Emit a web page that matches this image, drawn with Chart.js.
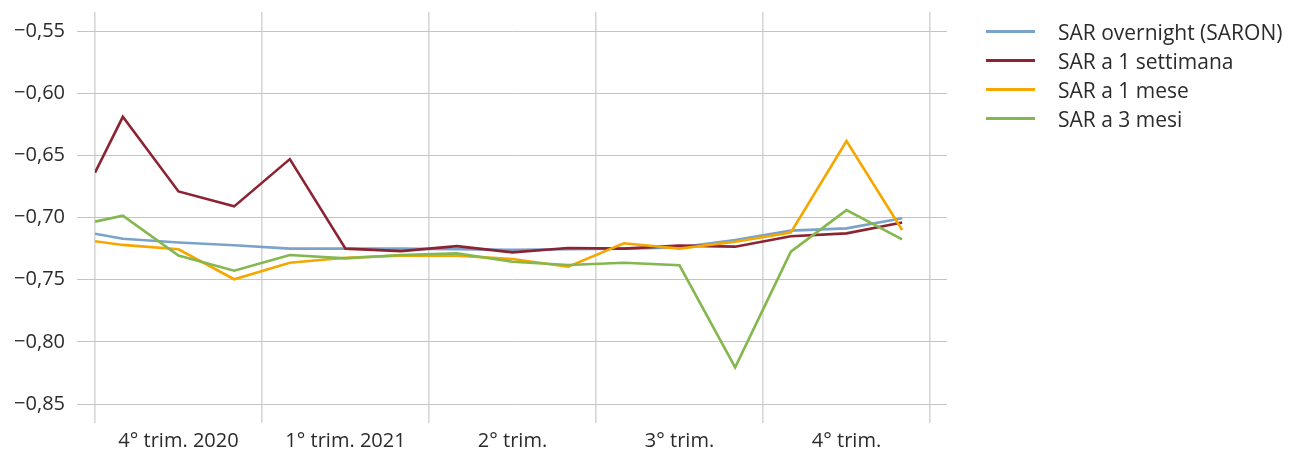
<!DOCTYPE html>
<html>
<head>
<meta charset="utf-8">
<script src="https://cdn.jsdelivr.net/npm/chart.js@4.4.1/dist/chart.umd.min.js"></script>
<style>
  html, body { margin: 0; padding: 0; background: #fff; overflow: hidden; }
  #wrap { position: relative; width: 1291px; height: 452px; }
  #legend { position: absolute; left: 986px; top: 17px; font-family: "Open Sans", Roboto, sans-serif; font-size: 21px; color: #2b2b2b; }
  .item { display: flex; align-items: center; height: 29px; }
  .swatch { width: 49px; height: 3px; margin-right: 23px; }
</style>
</head>
<body>
<div id="wrap">
  <canvas id="c" width="1291" height="452"></canvas>
  <div id="legend"></div>
</div>
<script>
// time in months from 1 Oct 2020 (mid-month points; first value is the left edge)
const months = [0, 0.5, 1.5, 2.5, 3.5, 4.5, 5.5, 6.5, 7.5, 8.5, 9.5, 10.5, 11.5, 12.5, 13.5, 14.5];
const seriesNames = ['SAR overnight (SARON)', 'SAR a 1 settimana', 'SAR a 1 mese', 'SAR a 3 mesi'];
const saron   = [-0.713, -0.717, -0.720, -0.7223, -0.725, -0.725, -0.725, -0.7255, -0.726, -0.7255, -0.725, -0.724, -0.718, -0.7105, -0.7087, -0.7006];
const week1   = [-0.664, -0.619, -0.679, -0.691, -0.653, -0.725, -0.727, -0.723, -0.728, -0.7245, -0.725, -0.7226, -0.7234, -0.715, -0.7127, -0.704];
const month1  = [-0.719, -0.722, -0.7255, -0.7496, -0.7363, -0.7323, -0.7306, -0.7306, -0.7333, -0.7395, -0.7207, -0.725, -0.7194, -0.712, -0.6385, -0.710];
const month3  = [-0.7033, -0.6985, -0.7306, -0.7427, -0.7301, -0.7328, -0.7301, -0.7288, -0.7355, -0.7381, -0.7363, -0.7384, -0.8205, -0.7274, -0.694, -0.7175];
const quarterLabels = ['4° trim. 2020', '1° trim. 2021', '2° trim.', '3° trim.', '4° trim.'];
const yTicks = [-0.55, -0.60, -0.65, -0.70, -0.75, -0.80, -0.85];
const colors = ['#7BA3C9', '#8C2332', '#F5A700', '#84B84F'];

const allSeries = [saron, week1, month1, month3];
const datasets = allSeries.map((s, i) => ({
  label: seriesNames[i],
  data: s.map((v, j) => ({ x: months[j], y: v })),
  borderColor: colors[i],
  backgroundColor: colors[i],
  borderWidth: 2.6,
  pointRadius: 0,
  tension: 0,
  order: 4 - i,
  clip: 0
}));

const xTickVals = [];
for (let q = 0; q <= quarterLabels.length; q++) {
  xTickVals.push(q * 3);
  if (q < quarterLabels.length) xTickVals.push(q * 3 + 1.5);
}
const hGrid = '#c4c4c4';
const vGrid = '#d6d6d6';
const font = { family: '"Open Sans", Roboto, sans-serif', size: 20, lineHeight: 1.2 };

const yCommon = {
  type: 'linear',
  min: -0.8652,
  max: -0.5347,
  afterBuildTicks: s => { s.ticks = yTicks.map(v => ({ value: v })); },
  border: { display: false }
};

new Chart(document.getElementById('c'), {
  type: 'line',
  data: { datasets },
  options: {
    responsive: false,
    animation: false,
    events: [],
    layout: { padding: { left: 0, right: 344, top: 12, bottom: 0 } },
    plugins: { legend: { display: false }, tooltip: { enabled: false } },
    scales: {
      x: {
        type: 'linear',
        min: 0,
        max: 15,
        afterBuildTicks: s => { s.ticks = xTickVals.map(v => ({ value: v })); },
        border: { display: false },
        grid: {
          color: c => (c.tick && c.tick.value % 3 === 0) ? vGrid : 'rgba(0,0,0,0)',
          lineWidth: 1.6,
          drawTicks: false
        },
        ticks: {
          autoSkip: false,
          maxRotation: 0,
          padding: 6,
          color: '#2b2b2b',
          font,
          callback: v => (v % 3 === 1.5) ? quarterLabels[Math.floor(v / 3)] : ''
        },
        afterFit: s => { s.height = 29; s.paddingLeft = 0; s.paddingRight = 0; }
      },
      y: {
        ...yCommon,
        position: 'left',
        grid: { color: hGrid, lineWidth: 1, drawTicks: true, tickLength: 18 },
        ticks: {
          padding: 12,
          color: '#2b2b2b',
          font,
          callback: v => '\u2212' + Math.abs(v).toFixed(2).replace('.', ',')
        },
        afterFit: s => { s.width = 95; s.paddingTop = 0; s.paddingBottom = 0; }
      },
      y2: {
        ...yCommon,
        position: 'right',
        grid: { color: hGrid, lineWidth: 1, drawTicks: true, tickLength: 17, drawOnChartArea: false },
        ticks: { display: false },
        afterFit: s => { s.width = 17; s.paddingTop = 0; s.paddingBottom = 0; }
      }
    }
  }
});

const legend = document.getElementById('legend');
seriesNames.forEach((n, i) => {
  const d = document.createElement('div');
  d.className = 'item';
  d.innerHTML = '<span class="swatch" style="background:' + colors[i] + '"></span><span>' + n + '</span>';
  legend.appendChild(d);
});
</script>
</body>
</html>
